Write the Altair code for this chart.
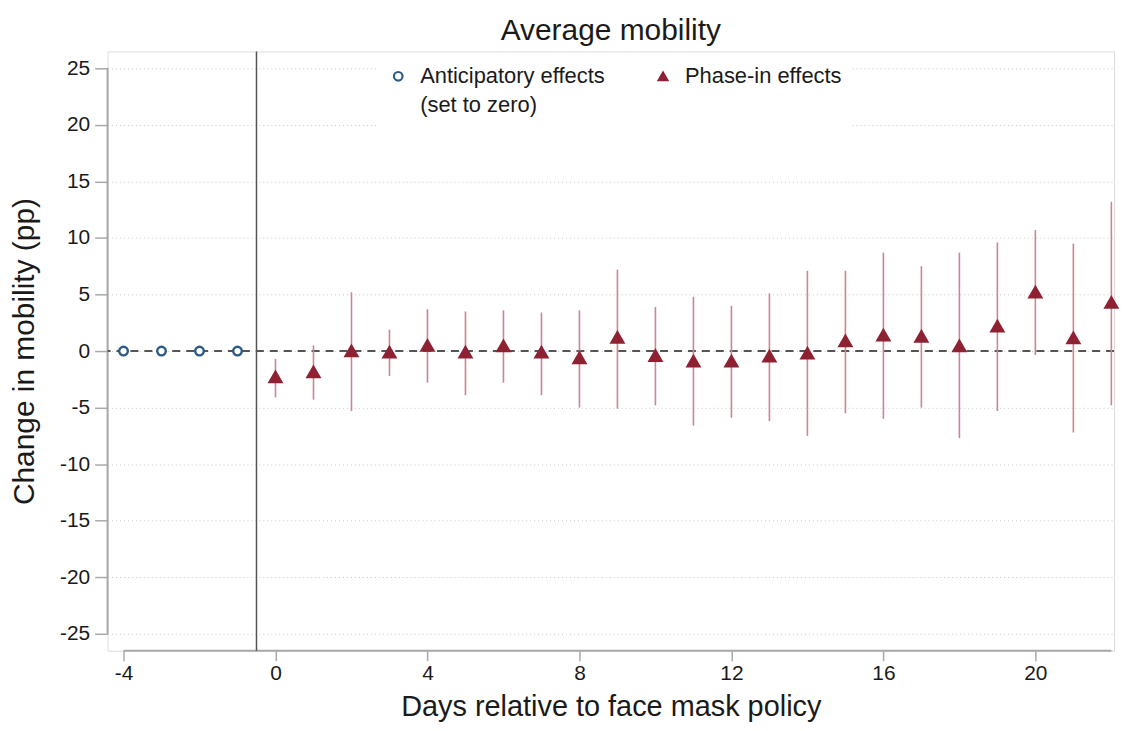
import altair as alt
import pandas as pd

# ---- data ----
series_names = ["Anticipatory effects", "Phase-in effects"]
legend_note = "(set to zero)"

days_pre = [-4, -3, -2, -1]
est_pre = [0.0, 0.0, 0.0, 0.0]

days_post = list(range(0, 23))
est_post = [-2.3, -1.85, 0.0, -0.1, 0.5, -0.1, 0.45, -0.1, -0.6, 1.2, -0.4, -0.9,
            -0.9, -0.45, -0.2, 0.9, 1.4, 1.3, 0.45, 2.2, 5.2, 1.15, 4.3]
ci_low = [-4.1, -4.3, -5.3, -2.2, -2.8, -3.9, -2.8, -3.9, -5.0, -5.1, -4.8, -6.6,
          -5.9, -6.2, -7.5, -5.5, -6.0, -5.0, -7.7, -5.3, -0.35, -7.2, -4.8]
ci_high = [-0.7, 0.5, 5.2, 1.9, 3.7, 3.5, 3.6, 3.4, 3.6, 7.2, 3.9, 4.8,
           4.0, 5.1, 7.1, 7.1, 8.7, 7.5, 8.7, 9.6, 10.7, 9.5, 13.2]

x_ticks = [-4, 0, 4, 8, 12, 16, 20]
y_ticks = [-25, -20, -15, -10, -5, 0, 5, 10, 15, 20, 25]
x_domain = [-4.42, 22.07]
y_domain = [-26.5, 26.5]
zero_line = [0]
event_line = [-0.5]
x_axis_span = [-4, 22]
y_axis_span = [-25, 25]

FONT = "Liberation Sans"
RED = "#8e2232"
RED_LIGHT = "#cb8590"
BLUE = "#2d5b88"
AXIS_GRAY = "#a9a9a9"
TXT = "#1a1a1a"

pts = pd.DataFrame({
    "day": days_pre + days_post,
    "est": est_pre + est_post,
    "series": [series_names[0]] * len(days_pre) + [series_names[1]] * len(days_post),
})
ci = pd.DataFrame({"day": days_post, "lo": ci_low, "hi": ci_high})

xs = alt.Scale(domain=x_domain, nice=False, zero=False)
ys = alt.Scale(domain=y_domain, nice=False, zero=False)

x_axis = alt.Axis(values=x_ticks, title="Days relative to face mask policy", grid=False,
                  domain=False, tickSize=10, tickWidth=1.5, tickColor=AXIS_GRAY,
                  labelExpr="toString(datum.value)",
                  labelFontSize=21, labelFont=FONT, labelColor=TXT, labelPadding=2,
                  titleFontSize=29, titleFont=FONT, titleFontWeight="normal",
                  titleColor=TXT, titlePadding=9)
y_axis = alt.Axis(values=y_ticks, title="Change in mobility (pp)", grid=True,
                  gridDash=[1, 3], gridColor="#c8c8c8", gridWidth=1,
                  domain=False, tickSize=13, tickWidth=1.5, tickColor=AXIS_GRAY,
                  labelExpr="toString(datum.value)",
                  labelFontSize=21, labelFont=FONT, labelColor=TXT, labelPadding=5,
                  titleFontSize=30, titleFont=FONT, titleFontWeight="normal",
                  titleColor=TXT, titlePadding=20)

axis_x_line = alt.Chart(pd.DataFrame({"x": [x_axis_span[0]], "x2": [x_axis_span[1]], "y": [y_domain[0]]})).mark_rule(
    color=AXIS_GRAY, strokeWidth=2).encode(
    x=alt.X("x:Q", scale=xs, axis=x_axis), x2="x2:Q", y=alt.Y("y:Q", scale=ys))
axis_y_line = alt.Chart(pd.DataFrame({"x": [x_domain[0]], "y": [y_axis_span[0]], "y2": [y_axis_span[1]]})).mark_rule(
    color=AXIS_GRAY, strokeWidth=2).encode(
    x=alt.X("x:Q", scale=xs), y=alt.Y("y:Q", scale=ys, axis=y_axis), y2="y2:Q")

zero = alt.Chart(pd.DataFrame({"y": zero_line})).mark_rule(
    color="#555555", strokeWidth=2, strokeDash=[8, 6]).encode(y=alt.Y("y:Q", scale=ys))
event = alt.Chart(pd.DataFrame({"x": event_line})).mark_rule(
    color="#555555", strokeWidth=1.5).encode(x=alt.X("x:Q", scale=xs))

bars = alt.Chart(ci).mark_rule(color=RED_LIGHT, strokeWidth=1.6).encode(
    x=alt.X("day:Q", scale=xs), y=alt.Y("lo:Q", scale=ys), y2="hi:Q")

legend_domain = series_names + [legend_note]

legend = alt.Legend(
    title=None, orient="none", legendX=271, legendY=4, direction="horizontal", columns=2,
    fillColor="white", padding=10, labelFont=FONT, labelFontSize=22, labelColor=TXT,
    labelLimit=400, labelOffset=11, columnPadding=47, rowPadding=7,
    symbolStrokeWidth=2.2, symbolSize=75,
)

points = alt.Chart(pts).mark_point(strokeWidth=2.4, opacity=1).encode(
    x=alt.X("day:Q", scale=xs),
    y=alt.Y("est:Q", scale=ys),
    shape=alt.Shape("series:N", scale=alt.Scale(domain=legend_domain, range=["circle", "triangle-up", "circle"]), legend=legend),
    fill=alt.Fill("series:N", scale=alt.Scale(domain=legend_domain, range=["white", RED, "transparent"]), legend=legend),
    stroke=alt.Stroke("series:N", scale=alt.Scale(domain=legend_domain, range=[BLUE, RED, "transparent"]), legend=legend),
    size=alt.Size("series:N", scale=alt.Scale(domain=series_names, range=[75, 140]), legend=None),
)

chart = alt.layer(axis_x_line, axis_y_line, zero, event, bars, points).properties(
    width=1011, height=602,
    title=alt.TitleParams("Average mobility", font=FONT, fontSize=30, fontWeight="normal",
                          color=TXT, anchor="middle", offset=5),
    autosize=alt.AutoSizeParams(type="none"),
    padding={"left": 100, "top": 42, "right": 5, "bottom": 70},
).configure_view(stroke=None).configure(background="white")

chart.save("out.html", embed_options={"renderer": "svg", "actions": False})
